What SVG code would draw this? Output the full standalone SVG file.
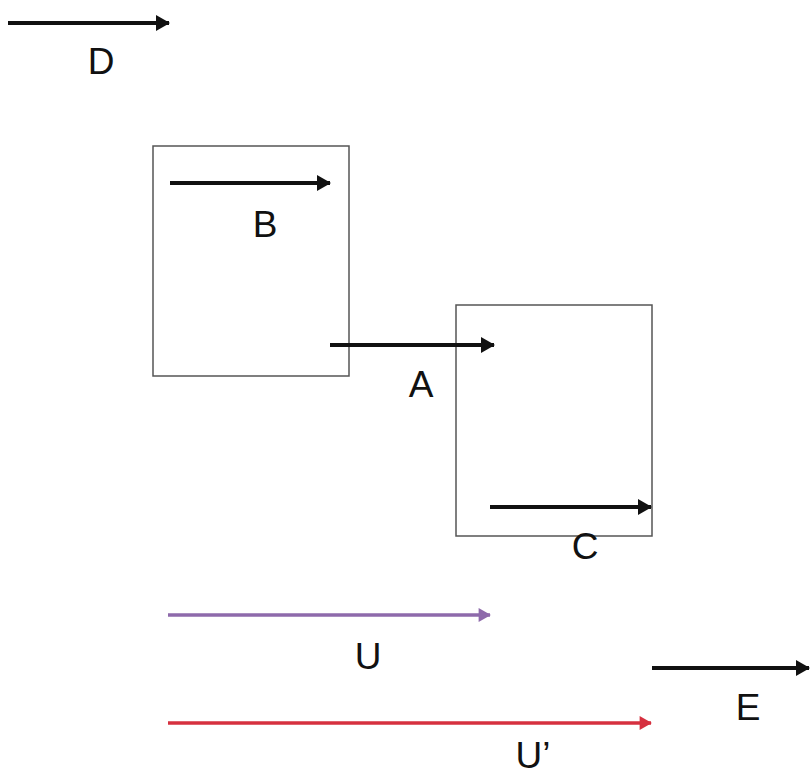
<svg xmlns="http://www.w3.org/2000/svg" width="810" height="774" viewBox="0 0 810 774">
<defs>
<style>
.box{fill:none;stroke:#555;stroke-width:1.5}
.ar{stroke:#111;stroke-width:4;fill:none}
.lbl{font-family:"Liberation Sans",Arial,sans-serif;font-size:37px;fill:#111;text-anchor:middle}
</style>
<marker id="hk" viewBox="0 0 14 16" refX="13" refY="8" markerWidth="14" markerHeight="16" markerUnits="userSpaceOnUse" orient="auto"><path d="M0,0 L14,8 L0,16 Z" fill="#111"/></marker>
<marker id="hp" viewBox="0 0 14 16" refX="13" refY="8" markerWidth="13" markerHeight="14" markerUnits="userSpaceOnUse" orient="auto"><path d="M0,0 L14,8 L0,16 Z" fill="#8e6aab"/></marker>
<marker id="hr" viewBox="0 0 14 16" refX="13" refY="8" markerWidth="13" markerHeight="14" markerUnits="userSpaceOnUse" orient="auto"><path d="M0,0 L14,8 L0,16 Z" fill="#d6303f"/></marker>
</defs>
<rect width="810" height="774" fill="#fff"/>
<g id="box1"><rect class="box" x="153" y="146" width="196" height="230"/></g>
<g id="box2"><rect class="box" x="456" y="305" width="196" height="231"/></g>
<g id="connectors">
<line class="ar" x1="8" y1="23" x2="169" y2="23" marker-end="url(#hk)"/>
<line class="ar" x1="170" y1="183" x2="330" y2="183" marker-end="url(#hk)"/>
<line class="ar" x1="330" y1="345" x2="494" y2="345" marker-end="url(#hk)"/>
<line class="ar" x1="490" y1="507" x2="651" y2="507" marker-end="url(#hk)"/>
<line x1="168" y1="615" x2="490" y2="615" stroke="#8e6aab" stroke-width="3.5" marker-end="url(#hp)"/>
<line x1="168" y1="723" x2="651" y2="723" stroke="#d6303f" stroke-width="3.5" marker-end="url(#hr)"/>
<line class="ar" x1="652" y1="668" x2="809" y2="668" marker-end="url(#hk)"/>
</g>
<g id="labels">
<text class="lbl" x="101" y="74">D</text>
<text class="lbl" x="265" y="237">B</text>
<text class="lbl" x="421" y="397">A</text>
<text class="lbl" x="585" y="559">C</text>
<text class="lbl" x="368" y="669">U</text>
<text class="lbl" x="533" y="768">U’</text>
<text class="lbl" x="748" y="720">E</text>
</g>
</svg>
